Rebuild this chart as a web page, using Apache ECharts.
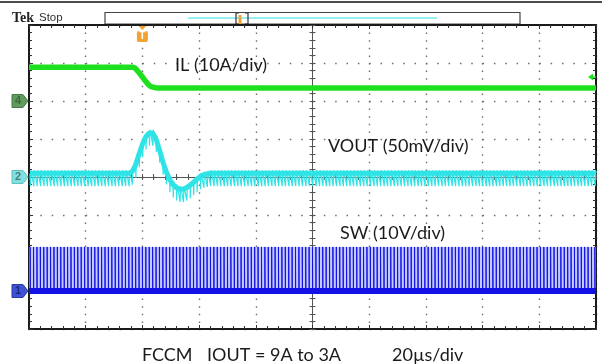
<!DOCTYPE html>
<html><head><meta charset="utf-8">
<script src="https://cdn.jsdelivr.net/npm/echarts@6/dist/echarts.min.js"></script>
<style>html,body{margin:0;padding:0;background:#fff}#c{width:602px;height:364px}</style>
</head><body><div id="c"></div>
<script>
// ---- time axis (µs), 20 µs/div, 10 divisions
const timeMin = 0, timeMax = 200, timeDiv = 20;
// ---- switching instants (µs)
const pulseTimes = [
0.4,1.6,2.8,4,5.2, 6.4,7.6,8.8,10,11.2, 12.4,13.6,14.8,16,17.2,
18.4,19.6,20.8,22,23.2, 24.4,25.6,26.8,28,29.2, 30.4,31.6,32.8,34,35.2,
36.4,37.6,38.8,40,41.2, 42.4,43.6,44.8,46,47.2, 48.4,49.6,50.8,52,53.2,
54.4,55.6,56.8,58,59.2, 60.4,61.6,62.8,64,65.2, 66.4,67.6,68.8,70,71.2,
72.4,73.6,74.8,76,77.2, 78.4,79.6,80.8,82,83.2, 84.4,85.6,86.8,88,89.2,
90.4,91.6,92.8,94,95.2, 96.4,97.6,98.8,100,101.2, 102.4,103.6,104.8,106,107.2,
108.4,109.6,110.8,112,113.2, 114.4,115.6,116.8,118,119.2, 120.4,121.6,122.8,124,125.2,
126.4,127.6,128.8,130,131.2, 132.4,133.6,134.8,136,137.2, 138.4,139.6,140.8,142,143.2,
144.4,145.6,146.8,148,149.2, 150.4,151.6,152.8,154,155.2, 156.4,157.6,158.8,160,161.2,
162.4,163.6,164.8,166,167.2, 168.4,169.6,170.8,172,173.2, 174.4,175.6,176.8,178,179.2,
180.4,181.6,182.8,184,185.2, 186.4,187.6,188.8,190,191.2, 192.4,193.6,194.8,196,197.2,
198.4,199.6
];
// ---- VOUT (mV, AC, 50 mV/div) trace centre at each switching instant
const voutBase = [
5,5,5,5,5, 5,5,5,5,5, 5,5,5,5,5,
5,5,5,5,5, 5,5,5,5,5, 5,5,5,5,5,
7,16,30,43,53, 58,58,50,36,20, 7,-3,-10,-14,-16,
-16,-14,-11,-7,-3, 1,3,4,5,5, 5,5,5,5,5,
5,5,5,5,5, 5,5,5,5,5, 5,5,5,5,5,
5,5,5,5,5, 5,5,5,5,5, 5,5,5,5,5,
5,5,5,5,5, 5,5,5,5,5, 5,5,5,5,5,
5,5,5,5,5, 5,5,5,5,5, 5,5,5,5,5,
5,5,5,5,5, 5,5,5,5,5, 5,5,5,5,5,
5,5,5,5,5, 5,5,5,5,5, 5,5,5,5,5,
5,5,5,5,5, 5,5,5,5,5, 5,5,5,5,5,
5,5
];
const voutSpikeDown = 17;   // mV below trace at each switching edge
const voutSpikeUp = 4;      // mV above trace
// ---- IL (A, 10 A/div)
const ilTimes = [0, 36.7, 37.5, 39, 40.5, 42, 43, 44.5, 46, 200];
const ilAmps  = [8.9, 8.9, 8.6, 7.3, 5.8, 4.4, 3.8, 3.5, 3.4, 3.4];
const ilTrigLevel = 6.3;
// ---- SW (V, 10 V/div)
const swLow = 0, swHigh = 11.6, swPulseWidth = 0.08;
// ---- channel offsets (div) and scales
const ilOffsetDiv = 2, ilPerDiv = 10;
const voutOffsetDiv = 0, voutPerDiv = 50;
const swOffsetDiv = -3, swPerDiv = 10;
const triggerTime = 40;

const green = '#1fe01f', cyan = '#2fe3e6', blue = '#1212e6';

const ilData = ilTimes.map((t, i) => [t, ilAmps[i]]);
const voutEnv = pulseTimes.map((t, i) => [t, voutBase[i]]);
const voutSpk = [];
pulseTimes.forEach((t, i) => {
  const b = voutBase[i];
  voutSpk.push([t, b], [t + 0.1, b - voutSpikeDown], [t + 0.25, b + voutSpikeUp], [t + 0.5, b]);
});
const swData = [];
pulseTimes.forEach(t => {
  swData.push([t, swLow], [t, swHigh], [t + swPulseWidth, swHigh], [t + swPulseWidth, swLow]);
});

const chart = echarts.init(document.getElementById('c'), null, {renderer: 'canvas'});
const frame = {color: '#1a1a1a', width: 2};
const centerLine = {color: '#555', width: 1};
function xA(extra) {
  return Object.assign({type: 'value', min: timeMin, max: timeMax, interval: timeDiv,
    axisLabel: {show: false}, splitLine: {show: false}}, extra);
}
function yA(extra) {
  return Object.assign({type: 'value', min: (-4 - voutOffsetDiv) * voutPerDiv, max: (4 - voutOffsetDiv) * voutPerDiv,
    interval: voutPerDiv, axisLabel: {show: false}, splitLine: {show: false}}, extra);
}
const tickS = {color: '#333'};
chart.setOption({
  animation: false,
  backgroundColor: '#fff',
  grid: {left: 29, right: 6, top: 25, bottom: 35},
  xAxis: [
    xA({position: 'bottom', axisLine: {show: true, onZero: false, lineStyle: frame},
      axisTick: {show: true, inside: true, length: 4, lineStyle: tickS},
      minorTick: {show: true, splitNumber: 5, length: 3, lineStyle: tickS},
      splitLine: {show: true, lineStyle: {color: '#6e6e6e', width: 1.4, type: [1.5, 6.1]}}}),
    xA({position: 'top', axisLine: {show: true, onZero: false, lineStyle: frame},
      axisTick: {show: true, inside: true, length: 4, lineStyle: tickS},
      minorTick: {show: true, splitNumber: 5, length: 3, lineStyle: tickS}}),
    xA({position: 'bottom', offset: -152, axisLine: {show: true, onZero: false, lineStyle: centerLine},
      axisTick: {show: true, inside: true, length: 3, lineStyle: {color: '#555'}},
      minorTick: {show: true, splitNumber: 5, length: 3, lineStyle: {color: '#555'}}}),
    xA({position: 'bottom', offset: -152, axisLine: {show: false, onZero: false},
      axisTick: {show: true, inside: false, length: 3, lineStyle: {color: '#555'}},
      minorTick: {show: true, splitNumber: 5, length: 3, lineStyle: {color: '#555'}}})
  ],
  yAxis: [
    yA({position: 'left', axisLine: {show: true, onZero: false, lineStyle: frame},
      axisTick: {show: true, inside: true, length: 4, lineStyle: tickS},
      minorTick: {show: true, splitNumber: 5, length: 3, lineStyle: tickS},
      splitLine: {show: true, lineStyle: {color: '#6e6e6e', width: 1.4, type: [1.5, 9.84]}}}),
    yA({position: 'right', axisLine: {show: true, onZero: false, lineStyle: frame},
      axisTick: {show: true, inside: true, length: 4, lineStyle: tickS},
      minorTick: {show: true, splitNumber: 5, length: 3, lineStyle: tickS}}),
    yA({position: 'left', offset: -283.5, axisLine: {show: true, onZero: false, lineStyle: centerLine},
      axisTick: {show: true, inside: true, length: 3, lineStyle: {color: '#555'}},
      minorTick: {show: true, splitNumber: 5, length: 3, lineStyle: {color: '#555'}}}),
    yA({position: 'right', offset: -283.5, axisLine: {show: false, onZero: false},
      axisTick: {show: true, inside: true, length: 3, lineStyle: {color: '#555'}},
      minorTick: {show: true, splitNumber: 5, length: 3, lineStyle: {color: '#555'}}}),
    {type: 'value', show: false, min: (-4 - ilOffsetDiv) * ilPerDiv, max: (4 - ilOffsetDiv) * ilPerDiv},
    {type: 'value', show: false, min: (-4 - swOffsetDiv) * swPerDiv, max: (4 - swOffsetDiv) * swPerDiv}
  ],
  series: [
    {name: 'SW', type: 'line', xAxisIndex: 0, yAxisIndex: 5, data: swData, showSymbol: false,
      lineStyle: {color: blue, width: 1}, z: 3,
      markArea: {silent: true, itemStyle: {color: '#c4c9ff'},
        data: [[{xAxis: timeMin, yAxis: swLow}, {xAxis: timeMax, yAxis: swHigh}]]}},
    {name: 'SW low', type: 'line', xAxisIndex: 0, yAxisIndex: 5,
      data: [[timeMin, swLow], [timeMax, swLow]], showSymbol: false,
      lineStyle: {color: blue, width: 6}, z: 4},
    {name: 'VOUT', type: 'line', xAxisIndex: 0, yAxisIndex: 0, data: voutEnv, showSymbol: false,
      lineStyle: {color: cyan, width: 5}, z: 5},
    {name: 'VOUT ripple', type: 'line', xAxisIndex: 0, yAxisIndex: 0, data: voutSpk, showSymbol: false,
      lineStyle: {color: cyan, width: 1.2}, z: 5},
    {name: 'IL', type: 'line', xAxisIndex: 0, yAxisIndex: 4, data: ilData, showSymbol: false,
      lineStyle: {color: green, width: 5.5}, z: 6}
  ]
});

const px = v => chart.convertToPixel({xAxisIndex: 0}, v);
const py = (axis, v) => chart.convertToPixel({yAxisIndex: axis}, v);
const trigX = px(triggerTime);
const gIL = py(4, 0), gV = py(0, 0), gSW = py(5, 0), trigY = py(4, ilTrigLevel);

function chanMarker(y, fill, stroke, txt, txtColor) {
  return [
    {type: 'polygon', shape: {points: [[12, y - 6.5], [23, y - 6.5], [28, y], [23, y + 6.5], [12, y + 6.5]]},
      style: {fill: fill, stroke: stroke, lineWidth: 1}, z: 20},
    {type: 'text', x: 18, y: y, style: {text: txt, fill: txtColor, font: 'bold 11px "Liberation Sans"',
      align: 'center', verticalAlign: 'middle'}, z: 21}
  ];
}
const labelFont = '18px Lato';
const orange = '#f2a233';
chart.setOption({
  graphic: [
    {type: 'line', shape: {x1: 0, y1: 2, x2: 602, y2: 2}, style: {stroke: '#111', lineWidth: 1.5}},
    {type: 'text', x: 12, y: 18, style: {text: 'Tek', font: 'bold 14px "Liberation Serif"', fill: '#222', verticalAlign: 'middle'}},
    {type: 'text', x: 39, y: 18, style: {text: 'Stop', font: '11.5px "Liberation Sans"', fill: '#333', verticalAlign: 'middle'}},
    {type: 'rect', shape: {x: 105, y: 12.5, width: 415, height: 11.5}, style: {fill: '#fff', stroke: '#444', lineWidth: 1.2}},
    {type: 'line', shape: {x1: 188, y1: 18, x2: 437, y2: 18}, style: {stroke: '#2fe3e6', lineWidth: 1.2}},
    {type: 'polyline', shape: {points: [[239, 13], [236, 13], [236, 24], [239, 24]]}, style: {stroke: '#333', lineWidth: 1.2, fill: null}},
    {type: 'polyline', shape: {points: [[245, 13], [248, 13], [248, 24], [245, 24]]}, style: {stroke: '#333', lineWidth: 1.2, fill: null}},
    {type: 'rect', shape: {x: 238.5, y: 15, width: 3, height: 9}, style: {fill: orange}},
    {type: 'polygon', shape: {points: [[trigX - 4, 26], [trigX + 4, 26], [trigX, 30]]}, style: {fill: orange}, z: 20},
    {type: 'rect', shape: {x: trigX - 5.5, y: 31, width: 11, height: 11, r: 2}, style: {fill: orange}, z: 20},
    {type: 'text', x: trigX, y: 36.5, style: {text: 'T', font: 'bold 10px "Liberation Sans"', fill: '#fff', align: 'center', verticalAlign: 'middle'}, z: 21},
    ...chanMarker(gIL, '#5f9a5f', '#4a7a4a', '4', '#3b6b3b'),
    ...chanMarker(gV, '#80e0e0', '#60c0c0', '2', '#4c8080'),
    ...chanMarker(gSW, '#3f52d6', '#2a3aa0', '1', '#1a2a80'),
    {type: 'polygon', shape: {points: [[588, trigY], [593, trigY - 3.5], [593, trigY + 3.5]]}, style: {fill: green}, z: 20},
    {type: 'line', shape: {x1: 592, y1: trigY, x2: 596, y2: trigY}, style: {stroke: green, lineWidth: 1.5}, z: 20},
    {type: 'text', x: 175, y: 65, style: {text: 'IL (10A/div)', font: labelFont, fill: '#1a1a1a', verticalAlign: 'middle'}, z: 30},
    {type: 'text', x: 328, y: 146, style: {text: 'VOUT (50mV/div)', font: labelFont, fill: '#1a1a1a', verticalAlign: 'middle'}, z: 30},
    {type: 'text', x: 340, y: 233, style: {text: 'SW (10V/div)', font: labelFont, fill: '#1a1a1a', verticalAlign: 'middle'}, z: 30},
    {type: 'text', x: 142, y: 355, style: {text: 'FCCM', font: labelFont, fill: '#1a1a1a', verticalAlign: 'middle'}},
    {type: 'text', x: 207, y: 355, style: {text: 'IOUT = 9A to 3A', font: labelFont, fill: '#1a1a1a', verticalAlign: 'middle'}},
    {type: 'text', x: 392, y: 355, style: {text: '20µs/div', font: labelFont, fill: '#1a1a1a', verticalAlign: 'middle'}}
  ]
});
</script></body></html>
